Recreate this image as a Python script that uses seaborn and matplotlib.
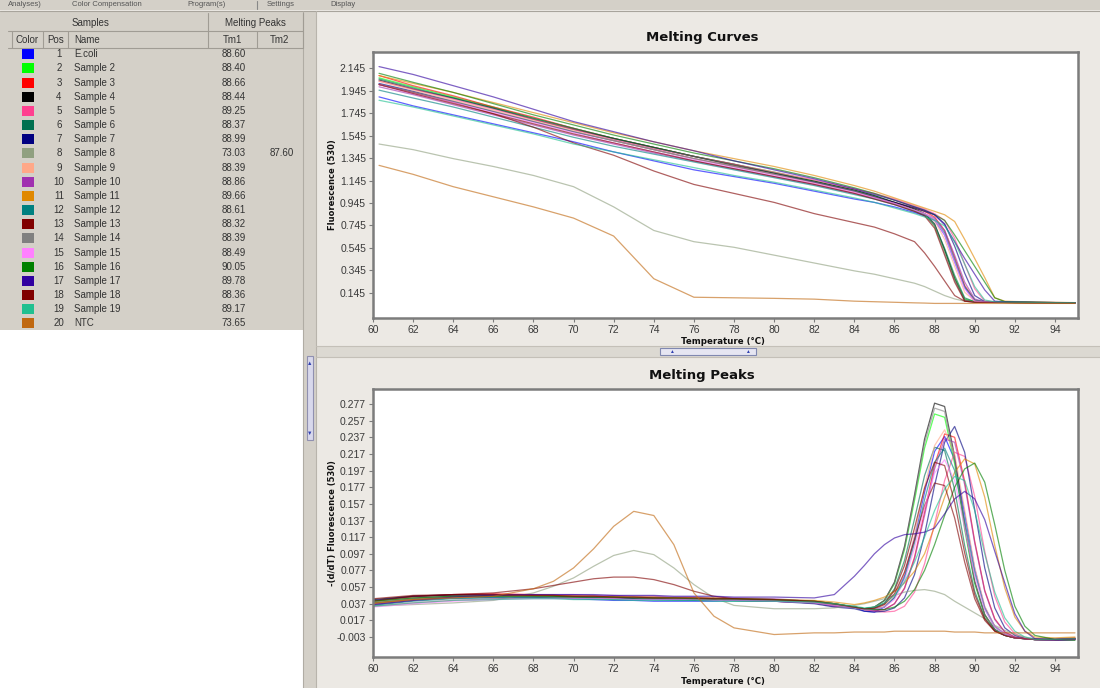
import numpy as np
import pandas as pd
import matplotlib
matplotlib.use('Agg')
import matplotlib.pyplot as plt
from matplotlib.patches import Rectangle
from matplotlib.lines import Line2D
import seaborn as sns

# ---- sample table ----
POS = list(range(1, 21))
NAMES = ['E.coli', 'Sample 2', 'Sample 3', 'Sample 4', 'Sample 5', 'Sample 6', 'Sample 7',
         'Sample 8', 'Sample 9', 'Sample 10', 'Sample 11', 'Sample 12', 'Sample 13',
         'Sample 14', 'Sample 15', 'Sample 16', 'Sample 17', 'Sample 18', 'Sample 19', 'NTC']
COLORS = ['#0000ff', '#00ff00', '#ff0000', '#000000', '#ff4090', '#007050', '#000080',
          '#90a080', '#ffa888', '#a030b0', '#e08800', '#008080', '#800000', '#808080',
          '#ff80ff', '#008000', '#3000a0', '#800000', '#20c090', '#c06810']
TM1 = ['88.60', '88.40', '88.66', '88.44', '89.25', '88.37', '88.99', '73.03', '88.39', '88.86',
       '89.66', '88.61', '88.32', '88.39', '88.49', '90.05', '89.78', '88.36', '89.17', '73.65']
TM2 = ['', '', '', '', '', '', '', '87.60', '', '', '', '', '', '', '', '', '', '', '', '']

# ---- melting curves (fluorescence 530) ----
T_MELT = [60.3, 62, 64, 66, 68, 70, 72, 74, 76, 78, 80, 82, 84, 85, 86, 87, 87.5, 88, 88.5,
          89, 89.5, 90, 90.5, 91, 91.5, 92, 93, 94, 95]
MELT_01 = [1.89, 1.81, 1.73, 1.65, 1.57, 1.49, 1.40, 1.32, 1.24, 1.18, 1.12, 1.05, 0.98, 0.95, 0.91,
           0.86, 0.83, 0.79, 0.66, 0.42, 0.19, 0.07, 0.064, 0.062, 0.061, 0.060, 0.058, 0.057, 0.056]
MELT_02 = [2.06, 1.98, 1.89, 1.80, 1.70, 1.61, 1.52, 1.44, 1.36, 1.29, 1.22, 1.14, 1.06, 1.01, 0.95,
           0.89, 0.85, 0.74, 0.52, 0.28, 0.09, 0.066, 0.063, 0.061, 0.060, 0.059, 0.057, 0.056, 0.055]
MELT_03 = [2.08, 1.99, 1.90, 1.80, 1.71, 1.61, 1.52, 1.44, 1.36, 1.28, 1.21, 1.13, 1.05, 1.00, 0.95,
           0.90, 0.87, 0.82, 0.70, 0.46, 0.21, 0.08, 0.063, 0.061, 0.060, 0.059, 0.057, 0.056, 0.055]
MELT_04 = [2.04, 1.96, 1.88, 1.79, 1.69, 1.60, 1.52, 1.44, 1.36, 1.29, 1.21, 1.14, 1.06, 1.01, 0.95,
           0.89, 0.85, 0.76, 0.53, 0.27, 0.08, 0.062, 0.060, 0.060, 0.059, 0.058, 0.057, 0.056, 0.055]
MELT_05 = [2.03, 1.96, 1.87, 1.78, 1.69, 1.60, 1.51, 1.43, 1.36, 1.29, 1.22, 1.15, 1.07, 1.03, 0.98,
           0.92, 0.89, 0.85, 0.79, 0.63, 0.40, 0.18, 0.07, 0.064, 0.062, 0.061, 0.059, 0.057, 0.056]
MELT_06 = [2.05, 1.97, 1.88, 1.79, 1.70, 1.61, 1.52, 1.44, 1.36, 1.28, 1.21, 1.13, 1.05, 1.00, 0.94,
           0.88, 0.84, 0.75, 0.54, 0.30, 0.10, 0.065, 0.062, 0.060, 0.059, 0.058, 0.057, 0.056, 0.055]
MELT_07 = [2.01, 1.94, 1.85, 1.76, 1.67, 1.58, 1.50, 1.42, 1.34, 1.27, 1.20, 1.13, 1.05, 1.00, 0.95,
           0.90, 0.87, 0.84, 0.76, 0.56, 0.32, 0.12, 0.065, 0.062, 0.061, 0.060, 0.058, 0.057, 0.056]
MELT_08 = [1.47, 1.42, 1.34, 1.27, 1.19, 1.09, 0.91, 0.70, 0.60, 0.55, 0.48, 0.41, 0.34, 0.31, 0.27,
           0.23, 0.20, 0.16, 0.12, 0.09, 0.07, 0.062, 0.060, 0.059, 0.058, 0.057, 0.056, 0.055, 0.054]
MELT_09 = [2.03, 1.95, 1.86, 1.77, 1.68, 1.59, 1.50, 1.42, 1.34, 1.27, 1.20, 1.12, 1.04, 0.99, 0.94,
           0.88, 0.85, 0.79, 0.62, 0.38, 0.15, 0.07, 0.063, 0.061, 0.060, 0.059, 0.057, 0.056, 0.055]
MELT_10 = [1.98, 1.91, 1.82, 1.73, 1.64, 1.55, 1.47, 1.39, 1.32, 1.25, 1.18, 1.11, 1.03, 0.99, 0.94,
           0.88, 0.85, 0.81, 0.70, 0.48, 0.24, 0.09, 0.063, 0.061, 0.060, 0.059, 0.057, 0.056, 0.055]
MELT_11 = [2.08, 2.01, 1.93, 1.84, 1.75, 1.66, 1.57, 1.49, 1.41, 1.34, 1.27, 1.19, 1.10, 1.05, 0.99,
           0.93, 0.90, 0.87, 0.84, 0.78, 0.62, 0.45, 0.28, 0.10, 0.07, 0.067, 0.063, 0.060, 0.057]
MELT_12 = [1.95, 1.88, 1.80, 1.71, 1.62, 1.53, 1.45, 1.38, 1.31, 1.24, 1.17, 1.10, 1.02, 0.98, 0.93,
           0.87, 0.84, 0.80, 0.68, 0.44, 0.20, 0.08, 0.063, 0.061, 0.060, 0.059, 0.057, 0.056, 0.055]
MELT_13 = [2.00, 1.93, 1.84, 1.74, 1.62, 1.48, 1.37, 1.23, 1.11, 1.03, 0.95, 0.85, 0.77, 0.73, 0.67,
           0.60, 0.50, 0.38, 0.25, 0.12, 0.07, 0.062, 0.060, 0.059, 0.058, 0.057, 0.056, 0.055, 0.054]
MELT_14 = [2.00, 1.93, 1.85, 1.76, 1.67, 1.58, 1.50, 1.42, 1.34, 1.27, 1.20, 1.13, 1.05, 1.00, 0.94,
           0.88, 0.84, 0.74, 0.50, 0.26, 0.08, 0.062, 0.060, 0.060, 0.059, 0.058, 0.057, 0.056, 0.055]
MELT_15 = [2.00, 1.92, 1.84, 1.75, 1.66, 1.57, 1.48, 1.40, 1.33, 1.26, 1.19, 1.12, 1.04, 0.99, 0.94,
           0.88, 0.85, 0.80, 0.66, 0.42, 0.18, 0.07, 0.063, 0.061, 0.060, 0.059, 0.057, 0.056, 0.055]
MELT_16 = [2.10, 2.02, 1.93, 1.83, 1.73, 1.64, 1.55, 1.47, 1.39, 1.32, 1.25, 1.17, 1.08, 1.03, 0.97,
           0.91, 0.88, 0.84, 0.79, 0.66, 0.52, 0.38, 0.24, 0.10, 0.066, 0.063, 0.060, 0.057, 0.055]
MELT_17 = [2.16, 2.09, 1.99, 1.89, 1.78, 1.67, 1.58, 1.49, 1.41, 1.32, 1.24, 1.16, 1.07, 1.02, 0.97,
           0.91, 0.88, 0.84, 0.75, 0.60, 0.45, 0.31, 0.17, 0.07, 0.065, 0.063, 0.060, 0.058, 0.056]
MELT_18 = [2.00, 1.92, 1.83, 1.74, 1.65, 1.56, 1.48, 1.40, 1.32, 1.25, 1.18, 1.11, 1.03, 0.98, 0.93,
           0.87, 0.83, 0.72, 0.48, 0.24, 0.07, 0.060, 0.059, 0.058, 0.058, 0.057, 0.056, 0.055, 0.054]
MELT_19 = [1.86, 1.80, 1.72, 1.64, 1.56, 1.47, 1.40, 1.33, 1.26, 1.19, 1.13, 1.06, 0.99, 0.95, 0.90,
           0.85, 0.82, 0.79, 0.74, 0.60, 0.40, 0.20, 0.08, 0.065, 0.062, 0.061, 0.059, 0.057, 0.056]
MELT_20 = [1.28, 1.20, 1.09, 1.00, 0.91, 0.81, 0.65, 0.27, 0.105, 0.100, 0.095, 0.088, 0.070, 0.065,
           0.060, 0.055, 0.053, 0.050, 0.050, 0.050, 0.050, 0.050, 0.050, 0.050, 0.050, 0.050, 0.050,
           0.050, 0.050]

# ---- melting peaks, -(d/dT) fluorescence 530 ----
T_PEAK = [60, 62, 64, 66, 68, 69, 70, 71, 72, 73, 74, 75, 76, 77, 78, 80, 82, 83,
          84, 84.5, 85, 85.5, 86, 86.5, 87, 87.5, 88, 88.5, 89, 89.5, 90, 90.5, 91, 91.5, 92,
          92.5, 93, 94, 95]
PEAK_01 = [0.036, 0.041, 0.044, 0.045, 0.045, 0.044, 0.043, 0.042, 0.041, 0.041, 0.040, 0.040, 0.040,
           0.040, 0.041, 0.040, 0.038, 0.034,
           0.033, 0.028, 0.027, 0.033, 0.045, 0.071, 0.116, 0.171, 0.220, 0.238, 0.210, 0.145, 0.079,
           0.033, 0.010, 0.001, -0.004, -0.005, -0.006, -0.007, -0.006]
PEAK_02 = [0.038, 0.043, 0.046, 0.047, 0.047, 0.047, 0.046, 0.046, 0.045, 0.045, 0.044, 0.044, 0.044,
           0.043, 0.043, 0.042, 0.040, 0.037,
           0.033, 0.031, 0.033, 0.041, 0.061, 0.102, 0.161, 0.224, 0.265, 0.261, 0.205, 0.126, 0.061,
           0.023, 0.006, -0.001, -0.004, -0.005, -0.006, -0.006, -0.005]
PEAK_03 = [0.040, 0.045, 0.048, 0.049, 0.048, 0.047, 0.046, 0.046, 0.045, 0.044, 0.043, 0.043, 0.042,
           0.042, 0.041, 0.040, 0.038, 0.035,
           0.033, 0.030, 0.029, 0.030, 0.037, 0.056, 0.093, 0.147, 0.204, 0.241, 0.237, 0.184, 0.112,
           0.053, 0.019, 0.003, -0.003, -0.005, -0.006, -0.006, -0.004]
PEAK_04 = [0.042, 0.046, 0.047, 0.047, 0.047, 0.046, 0.046, 0.045, 0.045, 0.044, 0.044, 0.043, 0.043,
           0.043, 0.042, 0.041, 0.040, 0.037,
           0.033, 0.031, 0.033, 0.041, 0.063, 0.106, 0.168, 0.235, 0.278, 0.274, 0.214, 0.132, 0.064,
           0.024, 0.006, -0.001, -0.004, -0.005, -0.006, -0.006, -0.005]
PEAK_05 = [0.034, 0.038, 0.041, 0.043, 0.044, 0.044, 0.044, 0.044, 0.043, 0.043, 0.043, 0.042, 0.042,
           0.042, 0.041, 0.040, 0.038, 0.034,
           0.033, 0.030, 0.028, 0.027, 0.028, 0.034, 0.051, 0.085, 0.133, 0.185, 0.219, 0.214, 0.166,
           0.100, 0.046, 0.015, 0.001, -0.004, -0.006, -0.007, -0.006]
PEAK_06 = [0.038, 0.042, 0.044, 0.045, 0.045, 0.045, 0.045, 0.044, 0.044, 0.043, 0.043, 0.043, 0.042,
           0.042, 0.042, 0.041, 0.039, 0.036,
           0.033, 0.031, 0.032, 0.038, 0.055, 0.089, 0.139, 0.191, 0.225, 0.221, 0.174, 0.107, 0.052,
           0.020, 0.005, -0.001, -0.004, -0.005, -0.006, -0.006, -0.005]
PEAK_07 = [0.041, 0.046, 0.048, 0.048, 0.047, 0.047, 0.046, 0.045, 0.044, 0.043, 0.042, 0.042, 0.041,
           0.041, 0.041, 0.040, 0.037, 0.033,
           0.031, 0.028, 0.027, 0.028, 0.032, 0.044, 0.072, 0.120, 0.179, 0.231, 0.250, 0.219, 0.150,
           0.080, 0.032, 0.008, -0.001, -0.005, -0.006, -0.007, -0.006]
PEAK_08 = [0.034, 0.036, 0.038, 0.041, 0.050, 0.058, 0.068, 0.082, 0.095, 0.101, 0.096, 0.080, 0.060,
           0.044, 0.035, 0.031, 0.031, 0.032,
           0.035, 0.037, 0.040, 0.043, 0.047, 0.051, 0.053, 0.054, 0.052, 0.048, 0.040, 0.033, 0.026,
           0.019, 0.011, 0.005, 0.000, -0.003, -0.005, -0.005, -0.004]
PEAK_09 = [0.036, 0.041, 0.044, 0.046, 0.047, 0.047, 0.047, 0.046, 0.046, 0.045, 0.045, 0.044, 0.044,
           0.043, 0.043, 0.042, 0.040, 0.037,
           0.033, 0.030, 0.030, 0.034, 0.046, 0.073, 0.119, 0.177, 0.227, 0.246, 0.217, 0.150, 0.081,
           0.034, 0.010, 0.001, -0.004, -0.005, -0.006, -0.006, -0.005]
PEAK_10 = [0.037, 0.043, 0.046, 0.048, 0.048, 0.048, 0.048, 0.047, 0.047, 0.046, 0.046, 0.045, 0.045,
           0.044, 0.044, 0.043, 0.040, 0.036,
           0.033, 0.030, 0.029, 0.030, 0.037, 0.055, 0.091, 0.143, 0.199, 0.235, 0.231, 0.180, 0.110,
           0.052, 0.018, 0.003, -0.003, -0.005, -0.006, -0.007, -0.006]
PEAK_11 = [0.037, 0.042, 0.045, 0.046, 0.047, 0.047, 0.046, 0.046, 0.045, 0.045, 0.045, 0.044, 0.044,
           0.044, 0.043, 0.042, 0.041, 0.039,
           0.036, 0.038, 0.041, 0.045, 0.052, 0.062, 0.076, 0.097, 0.130, 0.165, 0.195, 0.211, 0.205,
           0.165, 0.107, 0.056, 0.021, 0.004, -0.003, -0.004, -0.003]
PEAK_12 = [0.035, 0.040, 0.043, 0.044, 0.044, 0.044, 0.043, 0.043, 0.042, 0.042, 0.042, 0.041, 0.041,
           0.041, 0.040, 0.040, 0.038, 0.035,
           0.033, 0.030, 0.030, 0.033, 0.044, 0.068, 0.110, 0.162, 0.207, 0.224, 0.197, 0.137, 0.074,
           0.031, 0.009, 0.000, -0.004, -0.005, -0.006, -0.006, -0.005]
PEAK_13 = [0.040, 0.046, 0.048, 0.050, 0.055, 0.059, 0.063, 0.067, 0.069, 0.069, 0.066, 0.060, 0.052,
           0.046, 0.043, 0.041, 0.039, 0.036,
           0.033, 0.031, 0.031, 0.036, 0.049, 0.075, 0.114, 0.155, 0.182, 0.179, 0.140, 0.087, 0.043,
           0.017, 0.004, -0.001, -0.004, -0.005, -0.006, -0.006, -0.005]
PEAK_14 = [0.039, 0.044, 0.046, 0.046, 0.046, 0.045, 0.045, 0.045, 0.044, 0.044, 0.043, 0.043, 0.043,
           0.042, 0.042, 0.041, 0.039, 0.036,
           0.033, 0.031, 0.033, 0.041, 0.062, 0.104, 0.165, 0.230, 0.272, 0.268, 0.210, 0.129, 0.063,
           0.024, 0.006, -0.001, -0.004, -0.005, -0.006, -0.006, -0.005]
PEAK_15 = [0.033, 0.037, 0.040, 0.042, 0.043, 0.043, 0.043, 0.043, 0.043, 0.042, 0.042, 0.042, 0.042,
           0.041, 0.041, 0.040, 0.038, 0.035,
           0.033, 0.030, 0.030, 0.033, 0.042, 0.065, 0.104, 0.152, 0.194, 0.210, 0.185, 0.128, 0.070,
           0.030, 0.009, 0.000, -0.004, -0.005, -0.006, -0.006, -0.005]
PEAK_16 = [0.040, 0.044, 0.046, 0.046, 0.046, 0.046, 0.045, 0.045, 0.045, 0.044, 0.044, 0.044, 0.043,
           0.043, 0.043, 0.042, 0.040, 0.037,
           0.033, 0.031, 0.030, 0.030, 0.033, 0.040, 0.054, 0.077, 0.108, 0.143, 0.177, 0.199, 0.206,
           0.183, 0.132, 0.077, 0.034, 0.010, -0.001, -0.006, -0.007]
PEAK_17 = [0.036, 0.041, 0.045, 0.047, 0.048, 0.048, 0.048, 0.048, 0.047, 0.047, 0.047, 0.046, 0.046,
           0.046, 0.045, 0.045, 0.044, 0.048,
           0.070, 0.083, 0.097, 0.108, 0.116, 0.120, 0.121, 0.123, 0.128, 0.145, 0.163, 0.172, 0.163,
           0.138, 0.100, 0.062, 0.025, 0.004, -0.005, -0.006, -0.005]
PEAK_18 = [0.043, 0.047, 0.048, 0.048, 0.047, 0.047, 0.046, 0.046, 0.045, 0.045, 0.044, 0.044, 0.044,
           0.043, 0.043, 0.042, 0.040, 0.037,
           0.033, 0.031, 0.032, 0.037, 0.053, 0.083, 0.128, 0.176, 0.207, 0.203, 0.159, 0.098, 0.048,
           0.019, 0.004, -0.001, -0.004, -0.005, -0.006, -0.006, -0.005]
PEAK_19 = [0.034, 0.038, 0.041, 0.042, 0.043, 0.043, 0.042, 0.042, 0.042, 0.041, 0.041, 0.041, 0.041,
           0.040, 0.040, 0.040, 0.039, 0.037,
           0.034, 0.032, 0.033, 0.038, 0.047, 0.063, 0.087, 0.117, 0.149, 0.175, 0.190, 0.185, 0.149,
           0.097, 0.051, 0.020, 0.004, -0.003, -0.006, -0.006, -0.005]
PEAK_20 = [0.038, 0.042, 0.044, 0.046, 0.055, 0.064, 0.080, 0.103, 0.130, 0.148, 0.143, 0.108, 0.050,
           0.022, 0.008, 0.000, 0.002, 0.002,
           0.003, 0.003, 0.003, 0.003, 0.004, 0.004, 0.004, 0.004, 0.004, 0.004, 0.003, 0.003, 0.003,
           0.002, 0.002, 0.002, 0.002, 0.002, 0.002, 0.002, 0.002]

X_TICKS = list(range(60, 96, 2))
Y_TICKS_MELT = [0.145, 0.345, 0.545, 0.745, 0.945, 1.145, 1.345, 1.545, 1.745, 1.945, 2.145]
Y_TICKS_PEAK = [-0.003, 0.017, 0.037, 0.057, 0.077, 0.097, 0.117, 0.137, 0.157, 0.177, 0.197,
                0.217, 0.237, 0.257, 0.277]
MENU = ['Analyses)', 'Color Compensation', 'Program(s)', 'Settings', 'Display']

MELT = [MELT_01, MELT_02, MELT_03, MELT_04, MELT_05, MELT_06, MELT_07, MELT_08, MELT_09, MELT_10,
        MELT_11, MELT_12, MELT_13, MELT_14, MELT_15, MELT_16, MELT_17, MELT_18, MELT_19, MELT_20]
PEAK = [PEAK_01, PEAK_02, PEAK_03, PEAK_04, PEAK_05, PEAK_06, PEAK_07, PEAK_08, PEAK_09, PEAK_10,
        PEAK_11, PEAK_12, PEAK_13, PEAK_14, PEAK_15, PEAK_16, PEAK_17, PEAK_18, PEAK_19, PEAK_20]

rows = []
for name, vals in zip(NAMES, MELT):
    for t, v in zip(T_MELT, vals):
        rows.append((name, t, v))
df_melt = pd.DataFrame(rows, columns=['sample', 'temp', 'value'])

rows = []
for name, vals in zip(NAMES, PEAK):
    for t, v in zip(T_PEAK, vals):
        rows.append((name, t, v))
df_peak = pd.DataFrame(rows, columns=['sample', 'temp', 'value'])

palette = dict(zip(NAMES, COLORS))

sns.set_style('white')
plt.rcParams['font.family'] = ['Liberation Sans', 'DejaVu Sans']

W, H = 1100, 688
fig = plt.figure(figsize=(W / 100, H / 100), dpi=100, facecolor='#ece9e4')


def fx(px):
    return px / W


def fy(py):
    return 1 - py / H


def rect(x0, y0, x1, y1, fc, ec='none', lw=0.8):
    fig.patches.append(Rectangle((fx(x0), fy(y1)), fx(x1 - x0), (y1 - y0) / H,
                                 facecolor=fc, edgecolor=ec, linewidth=lw,
                                 transform=fig.transFigure))


def hline(y, x0, x1, c='#a09c94', lw=0.8):
    fig.lines.append(Line2D([fx(x0), fx(x1)], [fy(y), fy(y)], color=c, lw=lw,
                            transform=fig.transFigure))


def vline(x, y0, y1, c='#a09c94', lw=0.8):
    fig.lines.append(Line2D([fx(x), fx(x)], [fy(y0), fy(y1)], color=c, lw=lw,
                            transform=fig.transFigure))


# window chrome (menu strip)
rect(0, 0, W, 10, '#d4d0c8')
hline(10.5, 0, W, '#a8a49c')
for txt, x in zip(MENU, [8, 72, 187, 267, 330]):
    fig.text(fx(x), fy(5), txt, fontsize=5.5, color='#555555', ha='left', va='center')
vline(257, 1, 9, '#888888')

# left sample table
rect(0, 11, 305, 330, '#d4d0c8')
rect(0, 330, 303, H, 'white')
rect(303, 11, 316, H, '#d4d0c8')
vline(303.5, 11, H, '#b0aca4')
vline(316, 11, H, '#b8b4ac')
rect(307, 356, 313, 440, '#d8d8ec', ec='#9090b0')
fig.text(fx(310), fy(363), '\u25b2', fontsize=4, color='#3040b0', ha='center', va='center')
fig.text(fx(310), fy(433), '\u25bc', fontsize=4, color='#3040b0', ha='center', va='center')

hline(31, 8, 303, '#a09c94')
hline(48, 8, 303, '#a09c94')
for x in [208, 303]:
    vline(x, 13, 48, '#a09c94')
for x in [12, 43, 68, 257]:
    vline(x, 31, 48, '#a09c94')
fig.text(fx(91), fy(23), 'Samples', fontsize=7, color='#333333', ha='center', va='center')
fig.text(fx(255), fy(23), 'Melting Peaks', fontsize=7, color='#333333', ha='center', va='center')
for txt, x in [('Color', 27), ('Pos', 56), ('Name', 74), ('Tm1', 232), ('Tm2', 279)]:
    fig.text(fx(x), fy(40), txt, fontsize=7, color='#333333',
             ha='left' if txt == 'Name' else 'center', va='center')

for i, (p, name, col, t1, t2) in enumerate(zip(POS, NAMES, COLORS, TM1, TM2)):
    y = 54.3 + i * 14.16
    rect(22, y - 5, 34, y + 5, col)
    fig.text(fx(59), fy(y), str(p), fontsize=7, color='#333333', ha='center', va='center')
    fig.text(fx(74), fy(y), name, fontsize=7, color='#333333', ha='left', va='center')
    fig.text(fx(234), fy(y), t1, fontsize=7, color='#333333', ha='center', va='center')
    if t2:
        fig.text(fx(282), fy(y), t2, fontsize=7, color='#333333', ha='center', va='center')

# splitter between the two charts
rect(316, 346, W, 357, '#dcd9d2')
hline(346, 316, W, '#c4c0b8')
hline(357, 316, W, '#c4c0b8')
rect(660, 348, 756, 355, '#e6e6f2', ec='#8088b0')
fig.text(fx(671), fy(351.5), '\u25b2', fontsize=3.5, color='#3040b0', ha='center', va='center')
fig.text(fx(747), fy(351.5), '\u25b2', fontsize=3.5, color='#3040b0', ha='center', va='center')

# charts
ax1 = fig.add_axes([fx(373), fy(318), fx(1078 - 373), (318 - 52) / H])
ax2 = fig.add_axes([fx(373), fy(657), fx(1078 - 373), (657 - 389) / H])

sns.lineplot(data=df_melt, x='temp', y='value', hue='sample', palette=palette,
             estimator=None, sort=False, legend=False, linewidth=0.9, alpha=0.62, ax=ax1)
sns.lineplot(data=df_peak, x='temp', y='value', hue='sample', palette=palette,
             estimator=None, sort=False, legend=False, linewidth=0.9, alpha=0.62, ax=ax2)

ax1.set_ylim(-0.08, 2.29)
ax2.set_ylim(-0.027, 0.295)
ax1.set_yticks(Y_TICKS_MELT)
ax1.set_yticklabels([f'{v:.3f}' for v in Y_TICKS_MELT])
ax2.set_yticks(Y_TICKS_PEAK)
ax2.set_yticklabels([f'{v:.3f}' for v in Y_TICKS_PEAK])

for ax in (ax1, ax2):
    ax.set_facecolor('white')
    ax.set_xlim(60, 95.15)
    ax.set_xticks(X_TICKS)
    ax.set_xticklabels([str(v) for v in X_TICKS])
    ax.set_xlabel('')
    ax.set_ylabel('')
    for s in ax.spines.values():
        s.set_color('#7c7c7c')
        s.set_linewidth(1.8)
    ax.tick_params(direction='out', length=3, width=0.8, color='#7c7c7c',
                   labelsize=7.5, labelcolor='#3a3a3a', pad=2,
                   bottom=True, left=True)

fig.text(fx(702), fy(38), 'Melting Curves', fontsize=9.5, fontweight='bold',
         family='DejaVu Sans', color='#111111', ha='center', va='center')
fig.text(fx(702), fy(376), 'Melting Peaks', fontsize=9.5, fontweight='bold',
         family='DejaVu Sans', color='#111111', ha='center', va='center')
fig.text(fx(723), fy(341), 'Temperature (\u00b0C)', fontsize=6.2, fontweight='bold',
         family='DejaVu Sans', color='#111111', ha='center', va='center')
fig.text(fx(723), fy(681), 'Temperature (\u00b0C)', fontsize=6.2, fontweight='bold',
         family='DejaVu Sans', color='#111111', ha='center', va='center')
fig.text(fx(333), fy(185), 'Fluorescence (530)', fontsize=6, fontweight='bold',
         family='DejaVu Sans', color='#111111', ha='center', va='center', rotation=90)
fig.text(fx(333), fy(523), '-(d/dT) Fluorescence (530)', fontsize=6, fontweight='bold',
         family='DejaVu Sans', color='#111111', ha='center', va='center', rotation=90)

fig.savefig('out.png', dpi=100, facecolor=fig.get_facecolor())
